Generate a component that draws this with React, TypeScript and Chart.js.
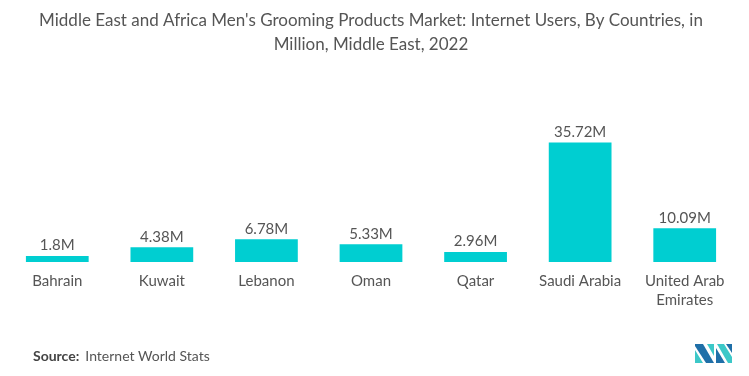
import React, { useEffect, useRef } from "react";
import { Chart, registerables } from "chart.js";

Chart.register(...registerables);

const categories: (string | string[])[] = [
  "Bahrain",
  "Kuwait",
  "Lebanon",
  "Oman",
  "Qatar",
  "Saudi Arabia",
  ["United Arab", "Emirates"],
];
const values: number[] = [1.8, 4.38, 6.78, 5.33, 2.96, 35.72, 10.09];
const valueLabels: string[] = ["1.8M", "4.38M", "6.78M", "5.33M", "2.96M", "35.72M", "10.09M"];
const titleLines: string[] = [
  "Middle East and Africa Men's Grooming Products Market: Internet Users, By Countries, in",
  "Million, Middle East, 2022",
];
const sourceLabel = "Source:";
const sourceText = "Internet World Stats";

const FONT = "Lato, 'Open Sans', sans-serif";
const BAR = "#00CED1";
const TEXT = "#555555";

const labelPlugin = {
  id: "valueLabels",
  afterDatasetsDraw(chart: any) {
    const ctx = chart.ctx;
    const meta = chart.getDatasetMeta(0);
    ctx.save();
    ctx.font = `15px ${FONT}`;
    ctx.fillStyle = TEXT;
    ctx.textAlign = "center";
    ctx.textBaseline = "bottom";
    meta.data.forEach((bar: any, i: number) => {
      ctx.fillText(valueLabels[i], bar.x, bar.y - 3);
    });
    ctx.restore();
  },
};

const footerPlugin = {
  id: "footer",
  afterDraw(chart: any) {
    const ctx = chart.ctx;
    ctx.save();
    ctx.textBaseline = "middle";
    ctx.textAlign = "left";
    ctx.fillStyle = "#444";
    ctx.font = `bold 14px ${FONT}`;
    ctx.fillText(sourceLabel, 33, 356);
    const w = ctx.measureText(sourceLabel).width;
    ctx.font = `14px ${FONT}`;
    ctx.fillStyle = TEXT;
    ctx.fillText(sourceText, 33 + w + 6, 356);
    // logo
    const ox = 695, oy = 344, h = 19;
    const dark = "#1F6FA8", teal = "#3CC8C8";
    const poly = (pts: number[][], c: string) => {
      ctx.beginPath();
      ctx.moveTo(pts[0][0], pts[0][1]);
      for (let k = 1; k < pts.length; k++) ctx.lineTo(pts[k][0], pts[k][1]);
      ctx.closePath();
      ctx.fillStyle = c;
      ctx.fill();
    };
    poly([[ox, oy + 6], [ox + 8, oy + h], [ox, oy + h]], teal);
    poly([[ox, oy], [ox + 8, oy], [ox + 19, oy + h], [ox + 11, oy + h], [ox, oy + 2]], dark);
    poly([[ox + 12, oy], [ox + 19, oy], [ox + 19, oy + 12]], teal);
    poly([[ox + 21, oy + 4], [ox + 30, oy + h], [ox + 21, oy + h]], dark);
    poly([[ox + 22, oy], [ox + 29, oy], [ox + 37, oy + 13], [ox + 37, oy + h], [ox + 33, oy + h]], teal);
    poly([[ox + 31, oy], [ox + 37, oy], [ox + 37, oy + 9]], dark);
    ctx.restore();
  },
};

export default function App() {
  const ref = useRef<HTMLCanvasElement>(null);
  useEffect(() => {
    document.body.style.margin = "0";
    const chart = new Chart(ref.current!, {
      type: "bar",
      data: {
        labels: categories,
        datasets: [
          {
            data: values,
            backgroundColor: BAR,
            categoryPercentage: 1,
            barPercentage: 0.6,
          },
        ],
      },
      options: {
        animation: false,
        responsive: false,
        layout: { padding: { left: 5, right: 12, bottom: 57, top: 0 } },
        plugins: {
          legend: { display: false },
          tooltip: { enabled: false },
          title: {
            display: true,
            text: titleLines,
            color: TEXT,
            font: { family: FONT, size: 17, weight: "normal" as any, lineHeight: 1.45 },
            padding: { top: 8, bottom: 71 },
          },
        },
        scales: {
          x: {
            grid: { display: false, drawTicks: false },
            border: { display: false },
            ticks: {
              color: TEXT,
              font: { family: FONT, size: 15, lineHeight: 1.3 },
              padding: 9,
              maxRotation: 0,
              autoSkip: false,
            },
          },
          y: {
            display: false,
            min: 0,
            max: 40,
          },
        },
      },
      plugins: [labelPlugin, footerPlugin],
    });
    return () => chart.destroy();
  }, []);
  return <canvas ref={ref} width={749} height={376} style={{ display: "block" }} />;
}
